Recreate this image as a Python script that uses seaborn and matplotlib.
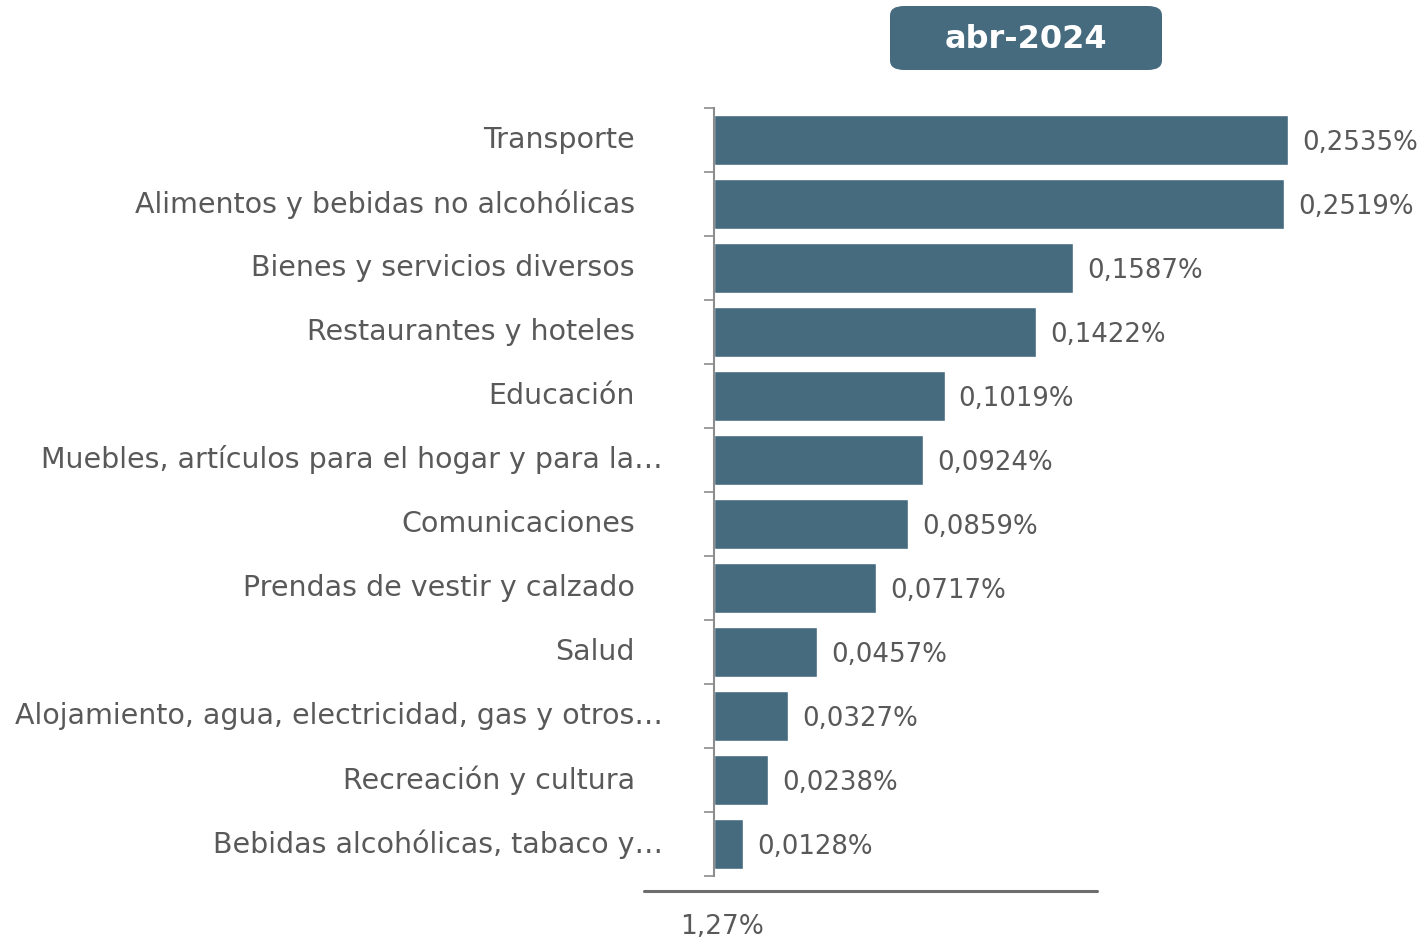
import numpy as np
import pandas as pd
import seaborn as sns
import matplotlib.pyplot as plt
from matplotlib.patches import FancyBboxPatch
import matplotlib.transforms as mtransforms

categorias = [
    "Transporte",
    "Alimentos y bebidas no alcohólicas",
    "Bienes y servicios diversos",
    "Restaurantes y hoteles",
    "Educación",
    "Muebles, artículos para el hogar y para la…",
    "Comunicaciones",
    "Prendas de vestir y calzado",
    "Salud",
    "Alojamiento, agua, electricidad, gas y otros…",
    "Recreación y cultura",
    "Bebidas alcohólicas, tabaco y…",
]
contribucion = [0.2535, 0.2519, 0.1587, 0.1422, 0.1019, 0.0924,
                0.0859, 0.0717, 0.0457, 0.0327, 0.0238, 0.0128]
total_label = "1,27%"
periodo = "abr-2024"

bar_color = "#466b7f"
text_color = "#595959"

sns.set_theme(style="white")
plt.rcParams['font.family'] = ['DejaVu Sans']

df = pd.DataFrame({"categoria": categorias, "valor": contribucion})

fig = plt.figure(figsize=(14.21, 9.42), dpi=100)
W, H = 1421, 942
# axes: left spine at x=714, categories from y=108 to y=876
ax = fig.add_axes([714 / W, 1 - 876 / H, (W - 714) / W, 768 / H])

sns.barplot(data=df, y="categoria", x="valor", color=bar_color, width=0.78,
            saturation=1, ax=ax)

ax.set_xlim(0, (W - 714) / 2264)
ax.set_ylim(len(categorias) - 0.5, -0.5)
ax.set_xlabel("")
ax.set_ylabel("")
ax.set_xticks([])
ax.set_yticks([])
ax.set_yticks(np.arange(-0.5, len(categorias), 1), minor=True)
ax.tick_params(axis="y", which="minor", left=True, length=7, width=1.2,
               color="#8c8c8c", direction="out")
for s in ["top", "right", "bottom"]:
    ax.spines[s].set_visible(False)
ax.spines["left"].set_color("#8c8c8c")
ax.spines["left"].set_linewidth(1.5)

# category labels
trans = mtransforms.blended_transform_factory(fig.transFigure, ax.transData)
for i, (cat, val) in enumerate(zip(categorias, contribucion)):
    x_end = 663 if cat.endswith("…") else 635
    ax.text(x_end / W, i, cat, transform=trans, ha="right", va="center",
            fontsize=20.5, color=text_color)
    ax.text(val + 14 / 2264, i + 0.04,
            f"{val:.4f}%".replace(".", ","), ha="left", va="center",
            fontsize=18.7, color=text_color)

# bottom total line and label
fig.add_artist(plt.Line2D([644 / W, 1097 / W], [1 - 891 / H, 1 - 891 / H],
                          color="#6d6d6d", linewidth=2.2))
fig.text(722 / W, 1 - 927 / H, total_label, ha="center", va="center",
         fontsize=19, color=text_color)

# period box
box = FancyBboxPatch((890 / W, 1 - 70 / H), 272 / W, 64 / H,
                     boxstyle="round,pad=0,rounding_size=0.01",
                     transform=fig.transFigure, facecolor=bar_color,
                     edgecolor="none")
fig.add_artist(box)
fig.text(1026 / W, 1 - 39 / H, periodo, ha="center", va="center",
         fontsize=23, fontweight="bold", color="white")

fig.savefig("out.png", dpi=100)
